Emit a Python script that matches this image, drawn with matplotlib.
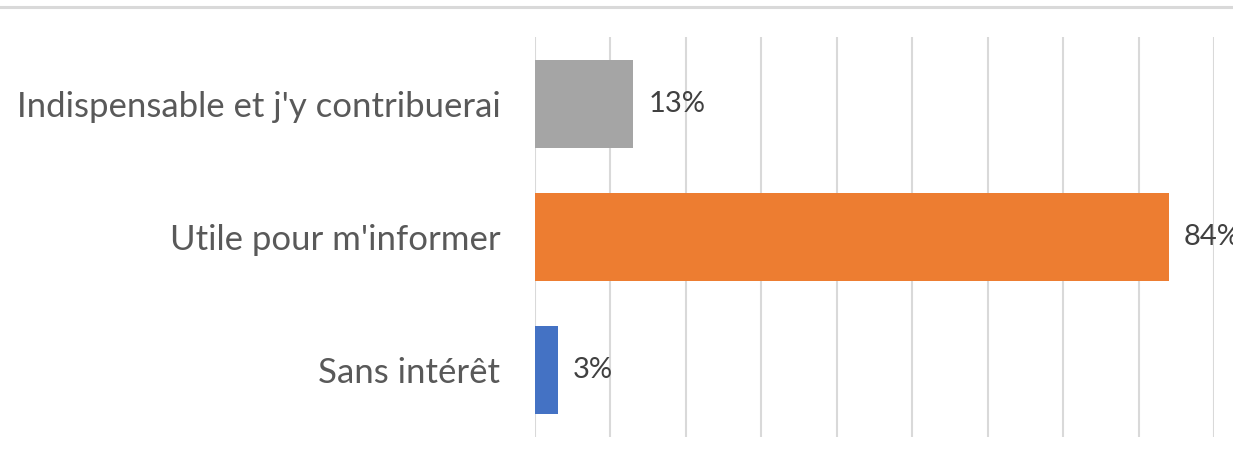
import matplotlib
matplotlib.use("Agg")
import matplotlib.pyplot as plt
from matplotlib.lines import Line2D

categories = ["Sans intérêt", "Utile pour m'informer", "Indispensable et j'y contribuerai"]
values = [3, 84, 13]
colors = ["#4472C4", "#ED7D31", "#A5A5A5"]
xticks = list(range(0, 100, 10))

W, H = 1233, 462
fig = plt.figure(figsize=(W / 100, H / 100), dpi=100)
ax = fig.add_axes([535 / W, 1 - 437 / H, (1214 - 535) / W, (437 - 37) / H])

ypos = list(range(len(categories)))
ax.barh(ypos, values, height=0.66, color=colors, zorder=3)
ax.set_xlim(0, 90)
ax.set_ylim(-0.5, len(categories) - 0.5)
ax.set_xticks(xticks)
ax.tick_params(axis="x", length=0, labelbottom=False)
ax.tick_params(axis="y", length=0, pad=25)
ax.set_yticks(ypos)
ax.set_yticklabels(categories, fontsize=25, color="#595959", family="Lato")
ax.grid(axis="x", color="#D9D9D9", linewidth=1.5, zorder=0)
for s in ax.spines.values():
    s.set_visible(False)

for y, v in zip(ypos, values):
    ax.text(v + 2.0, y, f"{v}%", va="center", ha="left", fontsize=21,
            color="#404040", family="Lato", clip_on=False)

fig.add_artist(Line2D([0, 1], [1 - 7 / H, 1 - 7 / H], color="#D9D9D9", linewidth=2.2,
                      transform=fig.transFigure))

fig.savefig("out.png", dpi=100)
